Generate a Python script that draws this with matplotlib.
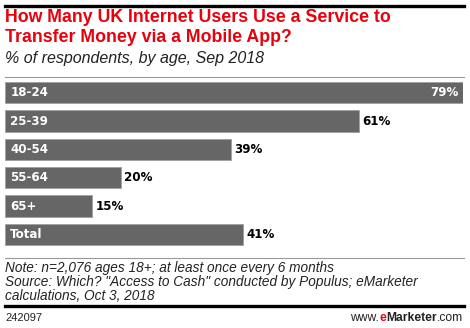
import numpy as np
import matplotlib.pyplot as plt
from matplotlib.lines import Line2D

# data
categorias = ['18-24', '25-39', '40-54', '55-64', '65+', 'Total']
valores = [79, 61, 39, 20, 15, 41]

W, H = 470, 328
fig = plt.figure(figsize=(W / 100, H / 100), dpi=100)
fig.patch.set_facecolor('white')

def py(y):
    # pixel desde arriba -> fraccion de figura
    return 1 - y / H

def px(x):
    return x / W

fuente = 'Liberation Sans'

# lineas de cabecera y pie
fig.add_artist(Line2D([px(5), px(464)], [py(6), py(6)], color='black', lw=2.4))
fig.add_artist(Line2D([px(5), px(464)], [py(77), py(77)], color='#999999', lw=0.8))
fig.add_artist(Line2D([px(5), px(464)], [py(258), py(258)], color='#999999', lw=0.8))
fig.add_artist(Line2D([px(5), px(464)], [py(306), py(306)], color='black', lw=2.4))

# titulo
fig.text(px(5), py(18), 'How Many UK Internet Users Use a Service to', color='#e8000d',
         fontsize=12.8, fontweight='bold', family=fuente, va='center')
fig.text(px(5), py(37), 'Transfer Money via a Mobile App?', color='#e8000d',
         fontsize=12.8, fontweight='bold', family=fuente, va='center')
fig.text(px(5), py(58), '% of respondents, by age, Sep 2018', color='#222222',
         fontsize=11.5, style='italic', family=fuente, va='center')

# barras
ax = fig.add_axes([px(5), py(248.5), 458 / W, 170 / H])
y = np.arange(len(categorias))
ax.barh(y, valores, height=0.76, color='#666666', edgecolor='#a0a0a0', linewidth=0.6)
ax.set_xlim(0, max(valores))
ax.set_ylim(len(categorias) - 0.5, -0.5)
ax.axis('off')

for i, (cat, v) in enumerate(zip(categorias, valores)):
    ax.text(0.9, i, cat, color='white', fontsize=8.6, fontweight='bold',
            family='DejaVu Sans', va='center', ha='left')
    if v == max(valores):
        ax.text(v - 0.7, i, f'{v}%', color='white', fontsize=8.6, fontweight='bold',
                family='DejaVu Sans', va='center', ha='right')
    else:
        ax.text(v + 0.6, i, f'{v}%', color='black', fontsize=8.6, fontweight='bold',
                family='DejaVu Sans', va='center', ha='left')

# notas
nota = dict(fontsize=9.8, style='italic', family=fuente, va='center', color='#222222')
fig.text(px(5), py(268), 'Note: n=2,076 ages 18+; at least once every 6 months', **nota)
fig.text(px(5), py(282), 'Source: Which? "Access to Cash" conducted by Populus; eMarketer', **nota)
fig.text(px(5), py(296), 'calculations, Oct 3, 2018', **nota)
fig.text(px(5), py(318), '242097', fontsize=8, family=fuente, va='center', color='#222222')

# logo
t1 = fig.text(px(463), py(318), '.com', fontsize=8.7, family=fuente, va='center',
              ha='right', color='#222222')
fig.canvas.draw()
r = fig.canvas.get_renderer()
bb = t1.get_window_extent(r)
t2 = fig.text(bb.x0 / W, py(318), 'Marketer', fontsize=8.7, family=fuente, fontweight='bold',
              va='center', ha='right', color='#222222')
bb = t2.get_window_extent(r)
t3 = fig.text(bb.x0 / W, py(318), 'e', fontsize=8.7, family=fuente, fontweight='bold',
              va='center', ha='right', color='#e8000d')
bb = t3.get_window_extent(r)
fig.text(bb.x0 / W, py(318), 'www.', fontsize=8.7, family=fuente, va='center',
         ha='right', color='#222222')

fig.savefig('out.png', dpi=100)
